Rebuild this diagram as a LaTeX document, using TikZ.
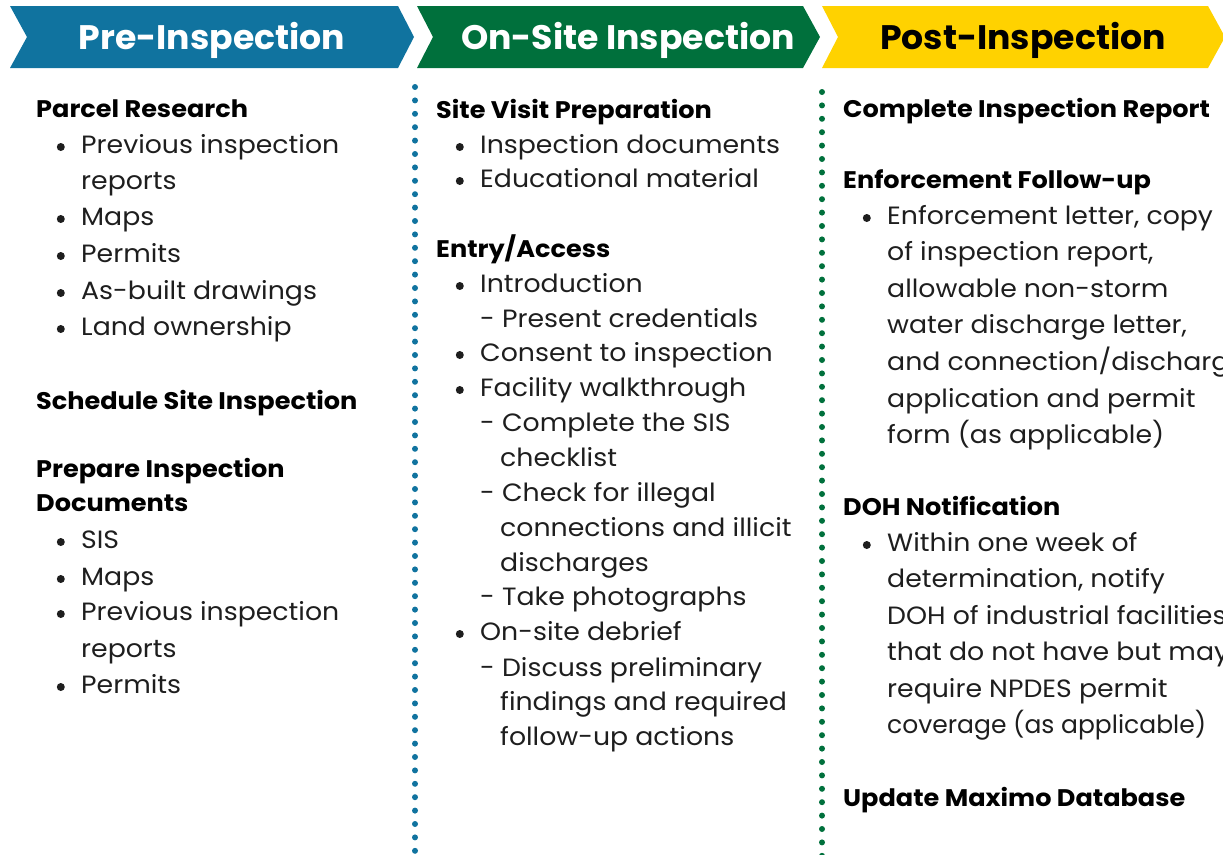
\documentclass[tikz,border=0pt]{standalone}
\usepackage{fontspec}
\setmainfont{Poppins}
\usepackage{tikz}
\usetikzlibrary{positioning}
\definecolor{preblue}{HTML}{10739F}
\definecolor{sitegreen}{HTML}{00703C}
\definecolor{postyellow}{HTML}{FFD200}
\definecolor{ink}{HTML}{1E1E1E}

\begin{document}
\begin{tikzpicture}[x=1pt, y=-1pt, label distance=16pt]
      \tikzstyle{txt} = [anchor=west, inner sep=0pt, yshift=-3pt, text height=19pt, text depth=6pt, text=ink, font=\fontsize{25}{30}\selectfont\addfontfeature{FakeStretch=1.07}]
      \tikzstyle{sect} = [txt, text=black, font=\fontsize{24}{28}\selectfont\bfseries\addfontfeature{FakeStretch=1.065}]
      \tikzstyle{dot} = [circle, fill=ink, inner sep=0pt, minimum size=8pt]
      \tikzstyle{bitem} = [txt, label={[dot]left:{}}]
      \tikzstyle{head} = [inner sep=0pt, font=\fontsize{34}{40}\selectfont\bfseries\addfontfeature{FakeStretch=1.02}]

      \useasboundingbox (0,0) rectangle (1223,854);
      \clip (0,0) rectangle (1223,854);

      % chevrons
      \fill[preblue] (10,6) -- (398,6) -- (414,37) -- (398,68) -- (10,68) -- (27,37) -- cycle;
      \fill[sitegreen] (417,6) -- (803,6) -- (820,37) -- (803,68) -- (417,68) -- (433,37) -- cycle;
      \fill[postyellow] (822,6) -- (1208,6) -- (1225,37) -- (1208,68) -- (822,68) -- (838,37) -- cycle;

      \node[head, text=white] (pre) at (212,40) {Pre-Inspection};
      \node[head, text=white] (onsite) at (628,40) {On-Site Inspection};
      \node[head, text=black] (post) at (1023,40) {Post-Inspection};

      % dotted separators
      \draw[preblue, line width=6pt, line cap=round, dash pattern=on 0pt off 13.4pt] (415,87) -- (415,860);
      \draw[sitegreen, line width=6pt, line cap=round, dash pattern=on 0pt off 13.4pt] (822,92) -- (822,860);

      % pre-inspection column
      \node[sect] (parcel) at (36,108) {Parcel Research};
      \node[bitem] (prev) at (81,144) {Previous inspection};
      \node[txt] (prevb) at (81,180) {reports};
      \node[bitem] (maps) at (81,216) {Maps};
      \node[bitem] (perm) at (81,253) {Permits};
      \node[bitem] (asbuilt) at (81,290) {As-built drawings};
      \node[bitem] (land) at (81,326) {Land ownership};
      \node[sect] (sched) at (36,400) {Schedule Site Inspection};
      \node[sect] (prep) at (36,468) {Prepare Inspection};
      \node[sect] (prepb) at (36,502) {Documents};
      \node[bitem] (sis) at (81,539) {SIS};
      \node[bitem] (maps2) at (81,576) {Maps};
      \node[bitem] (prev2) at (81,611) {Previous inspection};
      \node[txt] (prev2b) at (81,648) {reports};
      \node[bitem] (perm2) at (81,684) {Permits};

      % on-site column
      \node[sect] (visit) at (436,109) {Site Visit Preparation};
      \node[bitem] (docs) at (480,144) {Inspection documents};
      \node[bitem] (edu) at (480,178) {Educational material};
      \node[sect] (entry) at (436,248) {Entry/Access};
      \node[bitem] (intro) at (480,283) {Introduction};
      \node[txt] (cred) at (480,318) {- Present credentials};
      \node[bitem] (consent) at (480,352) {Consent to inspection};
      \node[bitem] (walk) at (480,387) {Facility walkthrough};
      \node[txt] (check) at (480,422) {- Complete the SIS};
      \node[txt] (checkb) at (500,457) {checklist};
      \node[txt] (illeg) at (480,492) {- Check for illegal};
      \node[txt] (illegb) at (500,527) {connections and illicit};
      \node[txt] (illegc) at (500,562) {discharges};
      \node[txt] (photo) at (480,596) {- Take photographs};
      \node[bitem] (debrief) at (480,631) {On-site debrief};
      \node[txt] (disc) at (480,667) {- Discuss preliminary};
      \node[txt] (discb) at (500,701) {findings and required};
      \node[txt] (discc) at (500,736) {follow-up actions};

      % post-inspection column
      \node[sect] (report) at (843,108) {Complete Inspection Report};
      \node[sect] (enf) at (843,179) {Enforcement Follow-up};
      \node[bitem] (letter) at (887,215) {Enforcement letter, copy};
      \node[txt] (letterb) at (887,251) {of inspection report,};
      \node[txt] (letterc) at (887,288) {allowable non-storm};
      \node[txt] (letterd) at (887,324) {water discharge letter,};
      \node[txt] (lettere) at (887,361) {and connection/discharge};
      \node[txt] (letterf) at (887,398) {application and permit};
      \node[txt] (letterg) at (887,434) {form (as applicable)};
      \node[sect] (doh) at (843,506) {DOH Notification};
      \node[bitem] (week) at (887,542) {Within one week of};
      \node[txt] (weekb) at (887,578) {determination, notify};
      \node[txt] (weekc) at (887,615) {DOH of industrial facilities};
      \node[txt] (weekd) at (887,651) {that do not have but may};
      \node[txt] (weeke) at (887,688) {require NPDES permit};
      \node[txt, font=\fontsize{25}{30}\selectfont\addfontfeature{FakeStretch=1.0}] (weekf) at (887,724) {coverage (as applicable)};
      \node[sect] (maximo) at (843,797) {Update Maximo Database};
    \end{tikzpicture}
\end{document}
